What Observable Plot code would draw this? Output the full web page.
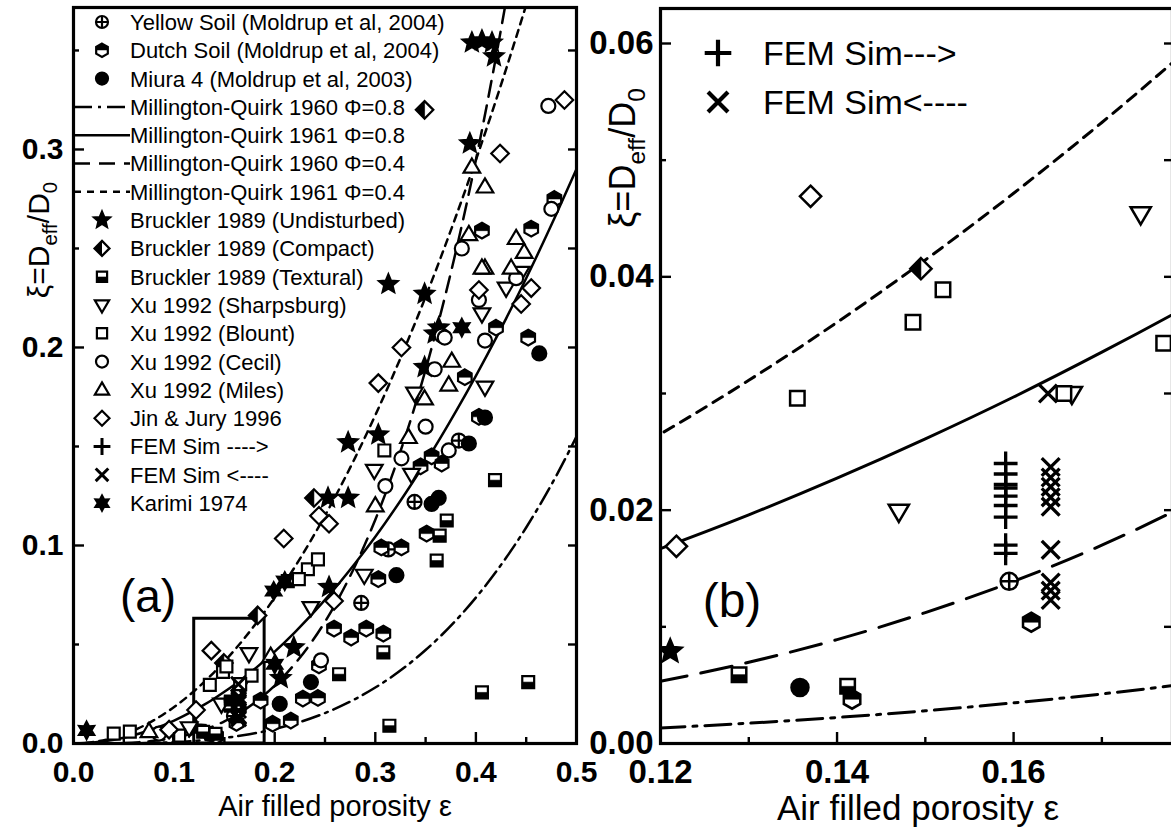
<!DOCTYPE html>
<html><head><meta charset="utf-8">
<script src="https://cdn.jsdelivr.net/npm/d3@7"></script>
<script src="https://cdn.jsdelivr.net/npm/@observablehq/plot@0.6"></script>
<style>
html,body{margin:0;padding:0;background:#fff;overflow:hidden;}
#wrap{position:relative;width:1171px;height:827px;overflow:hidden;background:#fff;}
</style></head><body><div id="wrap"></div>
<script>
const F = "'Liberation Sans', Arial, Helvetica, sans-serif";

// ---------- model curves ----------
const epsGrid = [0,0.02,0.05,0.08,0.1,0.12,0.13,0.14,0.15,0.16,0.17,0.18,0.2,0.22,0.25,0.28,0.3,0.33,0.35,0.38,0.4,0.42,0.43,0.45,0.48,0.5];
const mq1960phi08 = [0,0.0000034,0.000072,0.000344,0.000725,0.00133,0.00174,0.00223,0.0028,0.00348,0.00425,0.00515,0.00731,0.01005,0.01538,0.02244,0.02825,0.0388,0.0472,0.0621,0.0737,0.0867,0.0938,0.1091,0.1353,0.155];
const mq1961phi08 = [0,0.000464,0.0029,0.00743,0.0116,0.01671,0.0196,0.02274,0.02611,0.0297,0.03354,0.0376,0.0464,0.05616,0.0725,0.091,0.1044,0.1264,0.1421,0.1676,0.1857,0.2047,0.2146,0.235,0.2674,0.2901];
const mq1960phi04 = [0,0.000014,0.00029,0.001375,0.0029,0.00533,0.00696,0.0089,0.01122,0.0139,0.017,0.0206,0.02925,0.0402,0.0615,0.0898,0.113,0.1552,0.1888,0.2483,0.2947,0.3469,0.375];
const mq1961phi04 = [0,0.000737,0.0046,0.01179,0.01842,0.02653,0.03113,0.0361,0.04145,0.04716,0.05323,0.05968,0.0737,0.08915,0.1151,0.1444,0.1658,0.2006,0.2256,0.266,0.2947,0.3249,0.3406,0.373];

// ---------- measured data [air filled porosity, xi] ----------
const yellowSoil = [[0.286,0.071],[0.313,0.098],[0.339,0.122],[0.383,0.153],[0.1595,0.0139]];
const dutchSoil = [[0.259,0.058],[0.276,0.0535],[0.291,0.058],[0.308,0.0555],[0.244,0.0394],[0.243,0.023],[0.228,0.0227],[0.216,0.0116],[0.306,0.099],[0.326,0.099],[0.351,0.106],[0.303,0.083],[0.186,0.0217],[0.389,0.185],[0.366,0.1414],[0.403,0.165],[0.406,0.259],[0.455,0.26],[0.452,0.205],[0.478,0.275],[0.1417,0.0038],[0.162,0.0104],[0.345,0.14],[0.356,0.145],[0.42,0.21],[0.198,0.01]];
const miura4 = [[0.321,0.085],[0.236,0.031],[0.356,0.121],[0.409,0.1646],[0.393,0.1515],[0.363,0.124],[0.463,0.197],[0.1358,0.0048],[0.205,0.02]];
const brucklerUndisturbed = [[0.396,0.354],[0.406,0.355],[0.416,0.354],[0.418,0.347],[0.394,0.303],[0.349,0.227],[0.363,0.21],[0.349,0.19],[0.273,0.152],[0.303,0.156],[0.253,0.124],[0.273,0.124],[0.313,0.232],[0.254,0.079],[0.219,0.0485],[0.206,0.033],[0.1211,0.0079],[0.359,0.207]];
const brucklerCompact = [[0.349,0.32],[0.183,0.0647],[0.239,0.124],[0.1495,0.0407]];
const brucklerTextural = [[0.371,0.1126],[0.364,0.105],[0.361,0.0924],[0.308,0.046],[0.264,0.035],[0.314,0.009],[0.406,0.0258],[0.419,0.133],[0.452,0.031],[0.1289,0.0059],[0.1412,0.0049]];
const xuSharpsburg = [[0.289,0.085],[0.236,0.0687],[0.1744,0.0454],[0.147,0.0199],[0.1666,0.030],[0.406,0.217],[0.409,0.18],[0.299,0.138],[0.336,0.136],[0.339,0.177],[0.445,0.238],[0.43,0.23],[0.115,0.008]];
const xuBlount = [[0.233,0.088],[0.213,0.082],[0.224,0.083],[0.309,0.148],[0.1355,0.0296],[0.1486,0.0361],[0.152,0.0389],[0.177,0.0343],[0.1657,0.030],[0.243,0.093],[0.04,0.005],[0.056,0.006],[0.105,0.004]];
const xuCecil = [[0.366,0.206],[0.359,0.189],[0.403,0.224],[0.409,0.2035],[0.373,0.148],[0.326,0.144],[0.386,0.25],[0.369,0.205],[0.472,0.322],[0.475,0.27],[0.44,0.235],[0.35,0.16],[0.31,0.13],[0.246,0.042],[0.085,0.005]];
const xuMiles = [[0.396,0.291],[0.409,0.281],[0.409,0.24],[0.376,0.193],[0.373,0.181],[0.349,0.174],[0.333,0.1545],[0.393,0.257],[0.406,0.24],[0.44,0.255],[0.448,0.248],[0.435,0.24],[0.196,0.044],[0.075,0.006],[0.3,0.12]];
const jinJury = [[0.424,0.298],[0.488,0.325],[0.209,0.1035],[0.254,0.111],[0.259,0.072],[0.137,0.0469],[0.1218,0.0169],[0.326,0.2],[0.303,0.182],[0.403,0.229],[0.455,0.23],[0.445,0.222],[0.244,0.115],[0.095,0.007]];
const femForward = [[0.1591,0.0240],[0.1591,0.0231],[0.1591,0.0222],[0.1591,0.0219],[0.1591,0.0212],[0.1591,0.0204],[0.1591,0.0194],[0.1591,0.0170],[0.1591,0.0163]];
const femBackward = [[0.1642,0.0237],[0.1642,0.0228],[0.1642,0.0220],[0.1642,0.0211],[0.1642,0.0203],[0.1642,0.0166],[0.1642,0.0138],[0.1642,0.0131],[0.1642,0.0123],[0.1639,0.0300]];
const karimi = [[0.013,0.0066],[0.386,0.21],[0.199,0.077],[0.21,0.082],[0.2,0.04]];

// zoom box of panel (a) = extent of panel (b)
const insetBox = {eps: [0.12, 0.19], xi: [0, 0.063]};

// ticks
const aXticks = [0,0.1,0.2,0.3,0.4,0.5], aXminor = [0.05,0.15,0.25,0.35,0.45];
const aYticks = [0,0.1,0.2,0.3], aYminor = [0.05,0.15,0.25,0.35];
const bXticks = [0.12,0.14,0.16], bXminor = [0.13,0.15,0.17];
const bYticks = [0,0.02,0.04,0.06], bYminor = [0.01,0.03,0.05];

const legendLabels = ["Yellow Soil (Moldrup et al, 2004)","Dutch Soil (Moldrup et al, 2004)","Miura 4 (Moldrup et al, 2003)",
 "Millington-Quirk 1960 \u03A6=0.8","Millington-Quirk 1961 \u03A6=0.8","Millington-Quirk 1960 \u03A6=0.4","Millington-Quirk 1961 \u03A6=0.4",
 "Bruckler 1989 (Undisturbed)","Bruckler 1989 (Compact)","Bruckler 1989 (Textural)","Xu 1992 (Sharpsburg)","Xu 1992 (Blount)",
 "Xu 1992 (Cecil)","Xu 1992 (Miles)","Jin & Jury 1996","FEM Sim ---->","FEM Sim <----","Karimi 1974"];
const legendB = ["FEM Sim--->","FEM Sim<----"];

// ---------- symbols ----------
const Rr = s => Math.sqrt(s/Math.PI);
const symCircle = {draw(c,s){const r=Rr(s); c.moveTo(r,0); c.arc(0,0,r,0,2*Math.PI); c.closePath();}};
const symCirclePlus = {draw(c,s){const r=Rr(s); c.moveTo(r,0); c.arc(0,0,r,0,2*Math.PI); c.closePath(); c.moveTo(-r,0); c.lineTo(r,0); c.moveTo(0,-r); c.lineTo(0,r);}};
const symHex = {draw(c,s){const r=Rr(s)*1.12, a=0.866*r; c.moveTo(0,-r); c.lineTo(a,-r/2); c.lineTo(a,r/2); c.lineTo(0,r); c.lineTo(-a,r/2); c.lineTo(-a,-r/2); c.closePath();}};
const symHexTop = {draw(c,s){const r=Rr(s)*1.12, a=0.866*r; c.moveTo(-a,0); c.lineTo(-a,-r/2); c.lineTo(0,-r); c.lineTo(a,-r/2); c.lineTo(a,0); c.closePath();}};
const symSquare = {draw(c,s){const r=Rr(s)*0.85; c.moveTo(-r,-r); c.lineTo(r,-r); c.lineTo(r,r); c.lineTo(-r,r); c.closePath();}};
const symSquareBottom = {draw(c,s){const r=Rr(s)*0.85; c.moveTo(-r,0); c.lineTo(r,0); c.lineTo(r,r); c.lineTo(-r,r); c.closePath();}};
const symDiamond = {draw(c,s){const r=Rr(s)*1.25; c.moveTo(0,-r); c.lineTo(r,0); c.lineTo(0,r); c.lineTo(-r,0); c.closePath();}};
const symDiamondLeft = {draw(c,s){const r=Rr(s)*1.25; c.moveTo(0,-r); c.lineTo(0,r); c.lineTo(-r,0); c.closePath();}};
const symTriUp = {draw(c,s){const r=Rr(s)*1.25; c.moveTo(0,-r); c.lineTo(r*0.95,r*0.62); c.lineTo(-r*0.95,r*0.62); c.closePath();}};
const symTriDown = {draw(c,s){const r=Rr(s)*1.25; c.moveTo(0,r); c.lineTo(r*0.95,-r*0.62); c.lineTo(-r*0.95,-r*0.62); c.closePath();}};
const symPlus = {draw(c,s){const r=Rr(s)*1.4; c.moveTo(-r,0); c.lineTo(r,0); c.moveTo(0,-r); c.lineTo(0,r);}};
const symTimes = {draw(c,s){const r=Rr(s)*1.05; c.moveTo(-r,-r); c.lineTo(r,r); c.moveTo(r,-r); c.lineTo(-r,r);}};
function starPath(c,ro,ri,n){for(let i=0;i<2*n;i++){const rr=i%2?ri:ro, a=-Math.PI/2+i*Math.PI/n, x=rr*Math.cos(a), y=rr*Math.sin(a); if(i) c.lineTo(x,y); else c.moveTo(x,y);} c.closePath();}
const symStar = {draw(c,s){const r=Rr(s)*1.4; starPath(c,r,r*0.45,5);}};
const symStar6 = {draw(c,s){const r=Rr(s)*1.25; starPath(c,r,r*0.55,6);}};

const series = [
 {data: yellowSoil, sym: symCirclePlus, fill: "white"},
 {data: dutchSoil, sym: symHex, fill: "white", over: symHexTop},
 {data: miura4, sym: symCircle, fill: "black"},
 {data: brucklerUndisturbed, sym: symStar, fill: "black"},
 {data: brucklerCompact, sym: symDiamond, fill: "white", over: symDiamondLeft},
 {data: brucklerTextural, sym: symSquare, fill: "white", over: symSquareBottom},
 {data: xuSharpsburg, sym: symTriDown, fill: "white"},
 {data: xuBlount, sym: symSquare, fill: "white"},
 {data: xuCecil, sym: symCircle, fill: "white"},
 {data: xuMiles, sym: symTriUp, fill: "white"},
 {data: jinJury, sym: symDiamond, fill: "white"},
 {data: femForward, sym: symPlus, fill: "none"},
 {data: femBackward, sym: symTimes, fill: "none"},
 {data: karimi, sym: symStar6, fill: "black"}
];
const curves = [
 {eps: epsGrid, xi: mq1960phi08, style: "dashdot"},
 {eps: epsGrid, xi: mq1961phi08, style: "solid"},
 {eps: epsGrid.slice(0, mq1960phi04.length), xi: mq1960phi04, style: "longdash"},
 {eps: epsGrid.slice(0, mq1961phi04.length), xi: mq1961phi04, style: "shortdash"}
];
const dashA = {dashdot: "18,6,3,6", solid: null, longdash: "16,9", shortdash: "7,6"};
const dashB = {dashdot: "26,8,4,8", solid: null, longdash: "32,14", shortdash: "11,8"};

function curveMarks(sw, dashes){
  return curves.map(cv => Plot.line(cv.eps.map((e,i)=>[e,cv.xi[i]]), {x: d=>d[0], y: d=>d[1], stroke: "black", strokeWidth: sw, strokeDasharray: dashes[cv.style], curve: "monotone-x", clip: true}));
}
function dotMarks(r, sw){
  const m = [];
  for (const s of series){
    m.push(Plot.dot(s.data, {x: d=>d[0], y: d=>d[1], symbol: s.sym, r, fill: s.fill, stroke: "black", strokeWidth: (s.sym===symPlus||s.sym===symTimes)? sw+0.8 : sw, clip: true}));
    if (s.over) m.push(Plot.dot(s.data, {x: d=>d[0], y: d=>d[1], symbol: s.over, r, fill: "black", stroke: "black", strokeWidth: 0.6, clip: true}));
  }
  return m;
}
function axes(xt, xm, yt, ym, fmtX, fmtY, fs, padX, padY){
  return [
    Plot.axisX({ticks: xt, tickFormat: fmtX, tickSize: 0, tickPadding: padX, fontSize: fs, fontWeight: "bold", label: null}),
    Plot.axisX({ticks: xt, tickFormat: () => "", tickSize: -11, strokeWidth: 2.4, label: null}),
    Plot.axisX({ticks: xm, tickFormat: () => "", tickSize: -6, strokeWidth: 2.4, label: null}),
    Plot.axisY({ticks: yt, tickFormat: fmtY, tickSize: 0, tickPadding: padY, fontSize: fs, fontWeight: "bold", label: null}),
    Plot.axisY({ticks: yt, tickFormat: () => "", tickSize: -11, strokeWidth: 2.4, label: null}),
    Plot.axisY({ticks: ym, tickFormat: () => "", tickSize: -6, strokeWidth: 2.4, label: null}),
    Plot.axisY({anchor: "right", ticks: yt.concat(ym), tickFormat: () => "", tickSize: -9, strokeWidth: 2.4, label: null}),
    Plot.frame({stroke: "black", strokeWidth: 3.2})
  ];
}

// ---------- panel (a) ----------
const plotA = Plot.plot({
  width: 640, height: 827,
  marginLeft: 73, marginRight: 64, marginTop: 7, marginBottom: 84,
  x: {domain: [0, 0.5], label: null},
  y: {domain: [0, 0.3717], label: null},
  style: {fontFamily: F, background: "transparent", overflow: "visible", position: "absolute", left: "0px", top: "0px", color: "black"},
  marks: [
    ...curveMarks(2.5, dashA),
    Plot.rect([insetBox], {x1: d=>d.eps[0], x2: d=>d.eps[1], y1: d=>d.xi[0], y2: d=>d.xi[1], fill: "none", stroke: "black", strokeWidth: 3}),
    ...dotMarks(7, 2.2),
    ...axes(aXticks, aXminor, aYticks, aYminor, d3.format(".1f"), d3.format(".1f"), 30, 17, 10)
  ]
});

// ---------- panel (b) ----------
const plotB = Plot.plot({
  width: 600, height: 827,
  marginLeft: 80, marginRight: 8, marginTop: 8, marginBottom: 84,
  x: {domain: [0.12, 0.178], label: null},
  y: {domain: [0, 0.063], label: null},
  style: {fontFamily: F, background: "transparent", overflow: "visible", position: "absolute", left: "580px", top: "0px", color: "black"},
  marks: [
    ...curveMarks(3, dashB),
    ...dotMarks(8.5, 2.5),
    ...axes(bXticks, bXminor, bYticks, bYminor, d3.format(".2f"), d3.format(".2f"), 33, 16, 7)
  ]
});

const wrap = document.getElementById("wrap");
wrap.appendChild(plotA);
wrap.appendChild(plotB);

// ---------- annotations: legends, panel labels, axis titles ----------
function yTitle(svg, cx, cy, fs){
  const t = d3.select(svg).append("text").attr("transform", `translate(${cx},${cy}) rotate(-90)`)
    .attr("text-anchor", "middle").attr("font-family", F).attr("font-size", fs).attr("fill", "black").attr("dy", "0.35em");
  t.append("tspan").text("\u03BE=D");
  t.append("tspan").attr("font-size", fs*0.68).attr("dy", fs*0.28).text("eff");
  t.append("tspan").attr("dy", -fs*0.28).text("/D");
  t.append("tspan").attr("font-size", fs*0.68).attr("dy", fs*0.28).text("0");
}
function xTitle(svg, cx, cy, fs){
  d3.select(svg).append("text").attr("x", cx).attr("y", cy).attr("dy", "0.35em").attr("text-anchor", "middle")
    .attr("font-family", F).attr("font-size", fs).attr("fill", "black").text("Air filled porosity \u03B5");
}
function panelLabel(svg, cx, cy, fs, txt){
  d3.select(svg).append("text").attr("x", cx).attr("y", cy).attr("dy", "0.35em").attr("text-anchor", "middle")
    .attr("font-family", F).attr("font-size", fs).attr("fill", "black").text(txt);
}

// panel (a) legend
{
  const g = d3.select(plotA).append("g").attr("font-family", F).attr("font-size", 22).attr("fill", "black").attr("text-anchor", "start");
  const items = [
    {sym: series[0]}, {sym: series[1]}, {sym: series[2]},
    {line: "dashdot"}, {line: "solid"}, {line: "longdash"}, {line: "shortdash"},
    {sym: series[3]}, {sym: series[4]}, {sym: series[5]}, {sym: series[6]}, {sym: series[7]},
    {sym: series[8]}, {sym: series[9]}, {sym: series[10]}, {sym: series[11]}, {sym: series[12]}, {sym: series[13]}
  ];
  items.forEach((it, i) => {
    const y = 22 + 28.3*i;
    if (it.line) {
      g.append("line").attr("x1", 74).attr("x2", 130).attr("y1", y).attr("y2", y).attr("stroke", "black")
        .attr("stroke-width", 2.5).attr("stroke-dasharray", dashA[it.line] || null);
    } else {
      const s = it.sym, r = 6;
      const isLine = s.sym === symPlus || s.sym === symTimes;
      g.append("path").attr("d", d3.symbol(s.sym, Math.PI*r*r)()).attr("transform", `translate(102,${y})`)
        .attr("fill", s.fill).attr("stroke", "black").attr("stroke-width", isLine ? 3 : 2.2);
      if (s.over) g.append("path").attr("d", d3.symbol(s.over, Math.PI*r*r)()).attr("transform", `translate(102,${y})`).attr("fill", "black");
    }
    g.append("text").attr("x", 130).attr("y", y).attr("dy", "0.36em").attr("text-anchor", "start").text(legendLabels[i]);
  });
}
// panel (b) legend
{
  const g = d3.select(plotB).append("g").attr("font-family", F).attr("font-size", 34).attr("fill", "black").attr("text-anchor", "start");
  [symPlus, symTimes].forEach((sym, i) => {
    const y = 53 + 49*i;
    g.append("path").attr("d", d3.symbol(sym, Math.PI*9.5*9.5)()).attr("transform", `translate(138,${y})`)
      .attr("fill", "none").attr("stroke", "black").attr("stroke-width", 4.2);
    g.append("text").attr("x", 183).attr("y", y).attr("dy", "0.36em").attr("text-anchor", "start").text(legendB[i]);
  });
}
yTitle(plotA, 38, 240, 30);
yTitle(plotB, 42, 158, 36);
xTitle(plotA, 335, 806, 29);
xTitle(plotB, 338, 808, 35);
panelLabel(plotA, 148, 596, 46, "(a)");
panelLabel(plotB, 152, 600, 48, "(b)");
</script></body></html>
